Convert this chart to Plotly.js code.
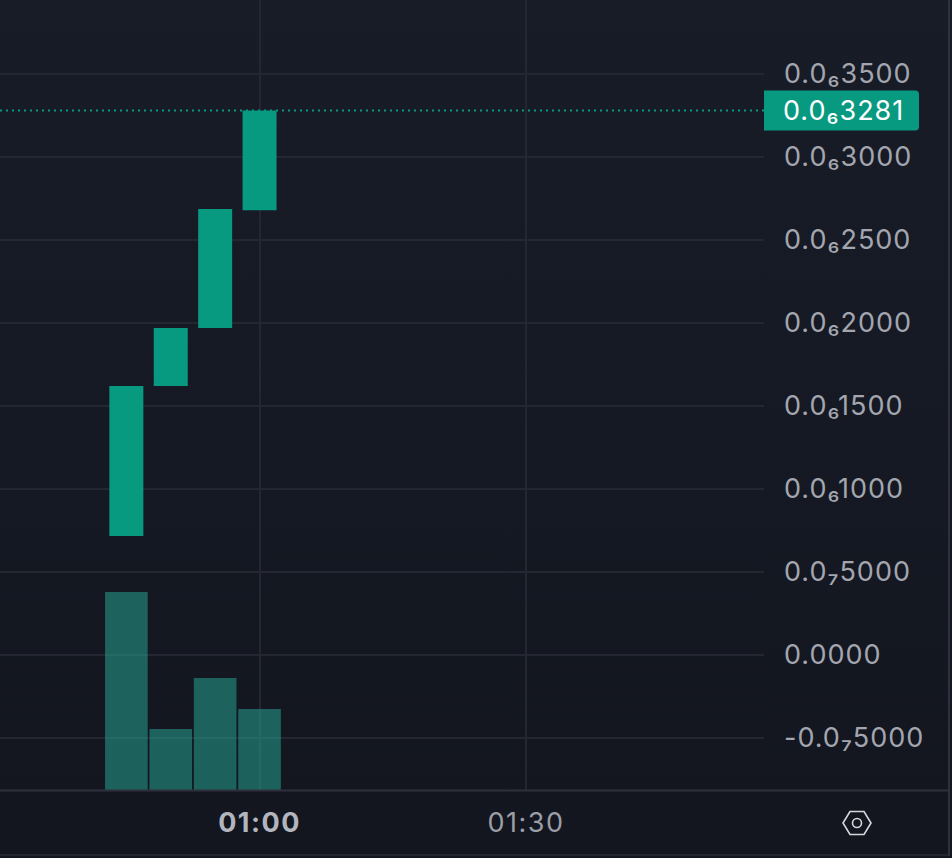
<!DOCTYPE html>
<html>
<head>
<meta charset="utf-8">
<script src="https://cdn.plot.ly/plotly-3.0.1.min.js"></script>
<style>
html,body{margin:0;padding:0;background:linear-gradient(#181c27,#13161f);overflow:hidden;height:858px}
#chart .ytick text,#chart .annotation-text{letter-spacing:1px}
#chart .xtick text{letter-spacing:1.5px}
</style>
</head>
<body>
<div id="chart" style="width:952px;height:858px"></div>
<script>
// minutes after midnight
const candleTimes = [45, 50, 55, 60];
const opens  = [717, 1620, 1970, 2680];
const closes = [1620, 1970, 2687, 3281];
const volumes = [198, 61, 112, 81];
const lastPrice = 3281;
const lastPriceLabel = '0.0₆3281';
const priceTicks = [3500, 3000, 2500, 2000, 1500, 1000, 500, 0, -500];
const priceLabels = ['0.0₆3500','0.0₆3000','0.0₆2500','0.0₆2000','0.0₆1500','0.0₆1000','0.0₇5000','0.0000','-0.0₇5000'];
const timeTicks = [60, 90];
const timeLabels = ['<b>01:00</b>', '<span style="color:#9b9ea7">01:30</span>'];

const grid = '#242731', green = '#089981', label = '#a3a6af', edge = '#2e313c';
const font = 'Inter, "Noto Sans", sans-serif';
const sizes = opens.map((o,i)=>closes[i]-o);

const traces = [
  {type:'bar', x:candleTimes, y:volumes, yaxis:'y2', width:4.8,
   marker:{color:'rgba(38,166,150,0.52)', line:{width:0}}, hoverinfo:'skip'},
  {type:'bar', x:candleTimes, y:sizes, base:opens, width:3.83,
   marker:{color:green, line:{width:0}}, hoverinfo:'skip'}
];

const layout = {
  width:952, height:858, showlegend:false, barmode:'overlay',
  paper_bgcolor:'rgba(0,0,0,0)', plot_bgcolor:'rgba(0,0,0,0)',
  margin:{l:0, r:188, t:0, b:68},
  font:{family:font, color:label, size:26},
  xaxis:{range:[30.77,116.81], type:'linear', tickvals:timeTicks, ticktext:timeLabels,
         showgrid:true, gridcolor:grid, gridwidth:1.5, zeroline:false, showline:false,
         ticks:'', ticklabelstandoff:14, tickfont:{size:27, color:'#b2b5be'}, fixedrange:true},
  yaxis:{range:[-813,3946], side:'right', tickvals:priceTicks, ticktext:priceLabels,
         showgrid:true, gridcolor:grid, gridwidth:1.5, zeroline:false, showline:false,
         ticks:'', ticklabelstandoff:19, tickfont:{size:27, color:label}, fixedrange:true},
  yaxis2:{range:[0,790], overlaying:'y', domain:[0,1], visible:false, fixedrange:true},
  shapes:[
    {type:'line', xref:'paper', yref:'y', x0:0, x1:1, y0:lastPrice, y1:lastPrice,
     line:{color:green, width:2, dash:'2px,4px'}},
    {type:'line', xref:'paper', yref:'paper', x0:0, x1:949/764, y0:-0.5/790, y1:-0.5/790,
     line:{color:edge, width:2}},
    {type:'line', xref:'paper', yref:'paper', x0:0, x1:949/764, y0:-65/790, y1:-65/790,
     line:{color:'#23262f', width:2}},
    {type:'line', xref:'paper', yref:'paper', x0:949/764, x1:949/764, y0:790/790, y1:-66/790,
     line:{color:edge, width:2}},
    {type:'path', xref:'paper', yref:'y', xsizemode:'pixel', ysizemode:'pixel',
     xanchor:1, yanchor:lastPrice,
     path:'M 0 -20 L 151 -20 Q 155 -20 155 -16 L 155 16 Q 155 20 151 20 L 0 20 Z',
     fillcolor:green, line:{width:0}, layer:'above'},
    {type:'path', xref:'paper', yref:'paper', layer:'above',
     path:'M '+[[843,823],[850,811.5],[864,811.5],[871,823],[864,834.5],[850,834.5]]
       .map(p=>(p[0]/764)+' '+((790-p[1])/790)).join(' L ')+' Z',
     fillcolor:'rgba(0,0,0,0)', line:{color:'#d6d8de', width:1.6}},
    {type:'circle', xref:'paper', yref:'paper', layer:'above',
     x0:852.5/764, x1:861.5/764, y0:(790-827.5)/790, y1:(790-818.5)/790,
     fillcolor:'rgba(0,0,0,0)', line:{color:'#d6d8de', width:1.6}}
  ],
  annotations:[
    {xref:'paper', yref:'y', x:1, y:lastPrice, xanchor:'left', yanchor:'middle', xshift:21,
     text:lastPriceLabel, showarrow:false, font:{size:27, color:'#ffffff', family:font}}
  ]
};
Plotly.newPlot('chart', traces, layout, {displayModeBar:false, responsive:false});
</script>
</body>
</html>
